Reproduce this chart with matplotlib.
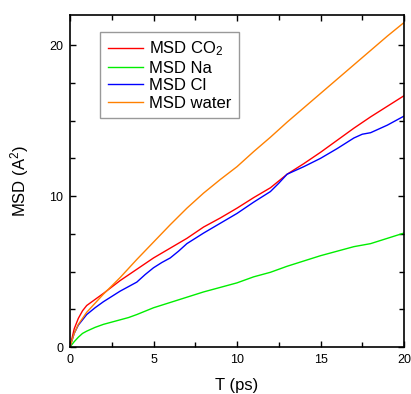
import matplotlib
matplotlib.use("Agg")
import matplotlib.pyplot as plt
from matplotlib.ticker import MultipleLocator

plt.rcParams['font.family'] = ['Liberation Sans', 'DejaVu Sans']
plt.rcParams['mathtext.fontset'] = 'custom'
plt.rcParams['mathtext.rm'] = 'Liberation Sans'
plt.rcParams['mathtext.it'] = 'Liberation Sans'

t_co2 = [0, 0.25, 0.5, 0.75, 1, 1.5, 2, 3, 4, 5, 6, 7, 8, 9, 10, 11, 12, 13, 14, 15, 16, 17, 18, 19, 20]
msd_co2 = [0, 1.2, 1.9, 2.4, 2.75, 3.15, 3.55, 4.4, 5.15, 5.9, 6.55, 7.2, 7.95, 8.55, 9.2, 9.9, 10.55, 11.45, 12.15, 12.9, 13.7, 14.5, 15.25, 15.95, 16.65]

t_na = [0, 0.25, 0.5, 0.75, 1, 1.5, 2, 2.5, 3, 3.5, 4, 5, 6, 7, 8, 9, 10, 11, 12, 13, 14, 15, 16, 17, 18, 19, 20]
msd_na = [0, 0.35, 0.65, 0.9, 1.05, 1.3, 1.5, 1.65, 1.8, 1.95, 2.15, 2.6, 2.95, 3.3, 3.65, 3.95, 4.25, 4.65, 4.95, 5.35, 5.7, 6.05, 6.35, 6.65, 6.85, 7.2, 7.55]

t_cl = [0, 0.25, 0.5, 1, 1.5, 2, 2.5, 3, 3.5, 4, 4.5, 5, 5.5, 6, 6.5, 7, 7.5, 8, 9, 10, 11, 12, 12.5, 13, 14, 15, 16, 17, 17.5, 18, 19, 20]
msd_cl = [0, 0.9, 1.45, 2.15, 2.6, 3.0, 3.35, 3.7, 4.0, 4.3, 4.8, 5.25, 5.6, 5.9, 6.35, 6.85, 7.2, 7.55, 8.2, 8.85, 9.6, 10.3, 10.85, 11.45, 11.95, 12.5, 13.15, 13.85, 14.1, 14.2, 14.7, 15.3]

t_water = [0, 0.25, 0.5, 1, 1.5, 2, 3, 4, 5, 6, 7, 8, 9, 10, 11, 12, 13, 14, 15, 16, 17, 18, 19, 20]
msd_water = [0, 0.9, 1.5, 2.3, 2.9, 3.5, 4.6, 5.8, 6.95, 8.1, 9.2, 10.2, 11.1, 11.95, 12.95, 13.9, 14.9, 15.85, 16.8, 17.75, 18.7, 19.65, 20.6, 21.5]

labels = ['MSD CO$_2$', 'MSD Na', 'MSD Cl', 'MSD water']
colors = ['#ff0000', '#00ee00', '#0000ff', '#ff8000']

fig = plt.figure(figsize=(4.11, 3.94), dpi=100)
ax = fig.add_axes([70/411, 1-347/394, 334/411, 332/394])

series = [(t_co2, msd_co2), (t_na, msd_na), (t_cl, msd_cl), (t_water, msd_water)]
for (t, m), lab, c in zip(series, labels, colors):
    ax.plot(t, m, color=c, lw=1.0, label=lab)

ax.set_xlim(0, 20)
ax.set_ylim(0, 22)
ax.xaxis.set_major_locator(MultipleLocator(5))
ax.xaxis.set_minor_locator(MultipleLocator(2.5))
ax.yaxis.set_major_locator(MultipleLocator(10))
ax.yaxis.set_minor_locator(MultipleLocator(2.5))
ax.tick_params(which='both', direction='in', top=True, right=True, width=1, labelsize=9)
ax.tick_params(which='major', length=4.5, pad=5)
ax.tick_params(which='minor', length=3.5)
for s in ax.spines.values():
    s.set_linewidth(1.2)

ax.set_xlabel('T (ps)', fontsize=12, labelpad=9)
ax.set_ylabel('MSD (A$^2$)', fontsize=12, labelpad=13)

leg = ax.legend(loc='upper left', bbox_to_anchor=(0.09, 0.949), borderaxespad=0,
                fontsize=12, handlelength=2.1, handletextpad=0.4, labelspacing=0.15,
                fancybox=False, frameon=True, borderpad=0.45)
leg.get_frame().set_edgecolor('#808080')
leg.get_frame().set_linewidth(1.0)

fig.savefig('out.png', dpi=100)
